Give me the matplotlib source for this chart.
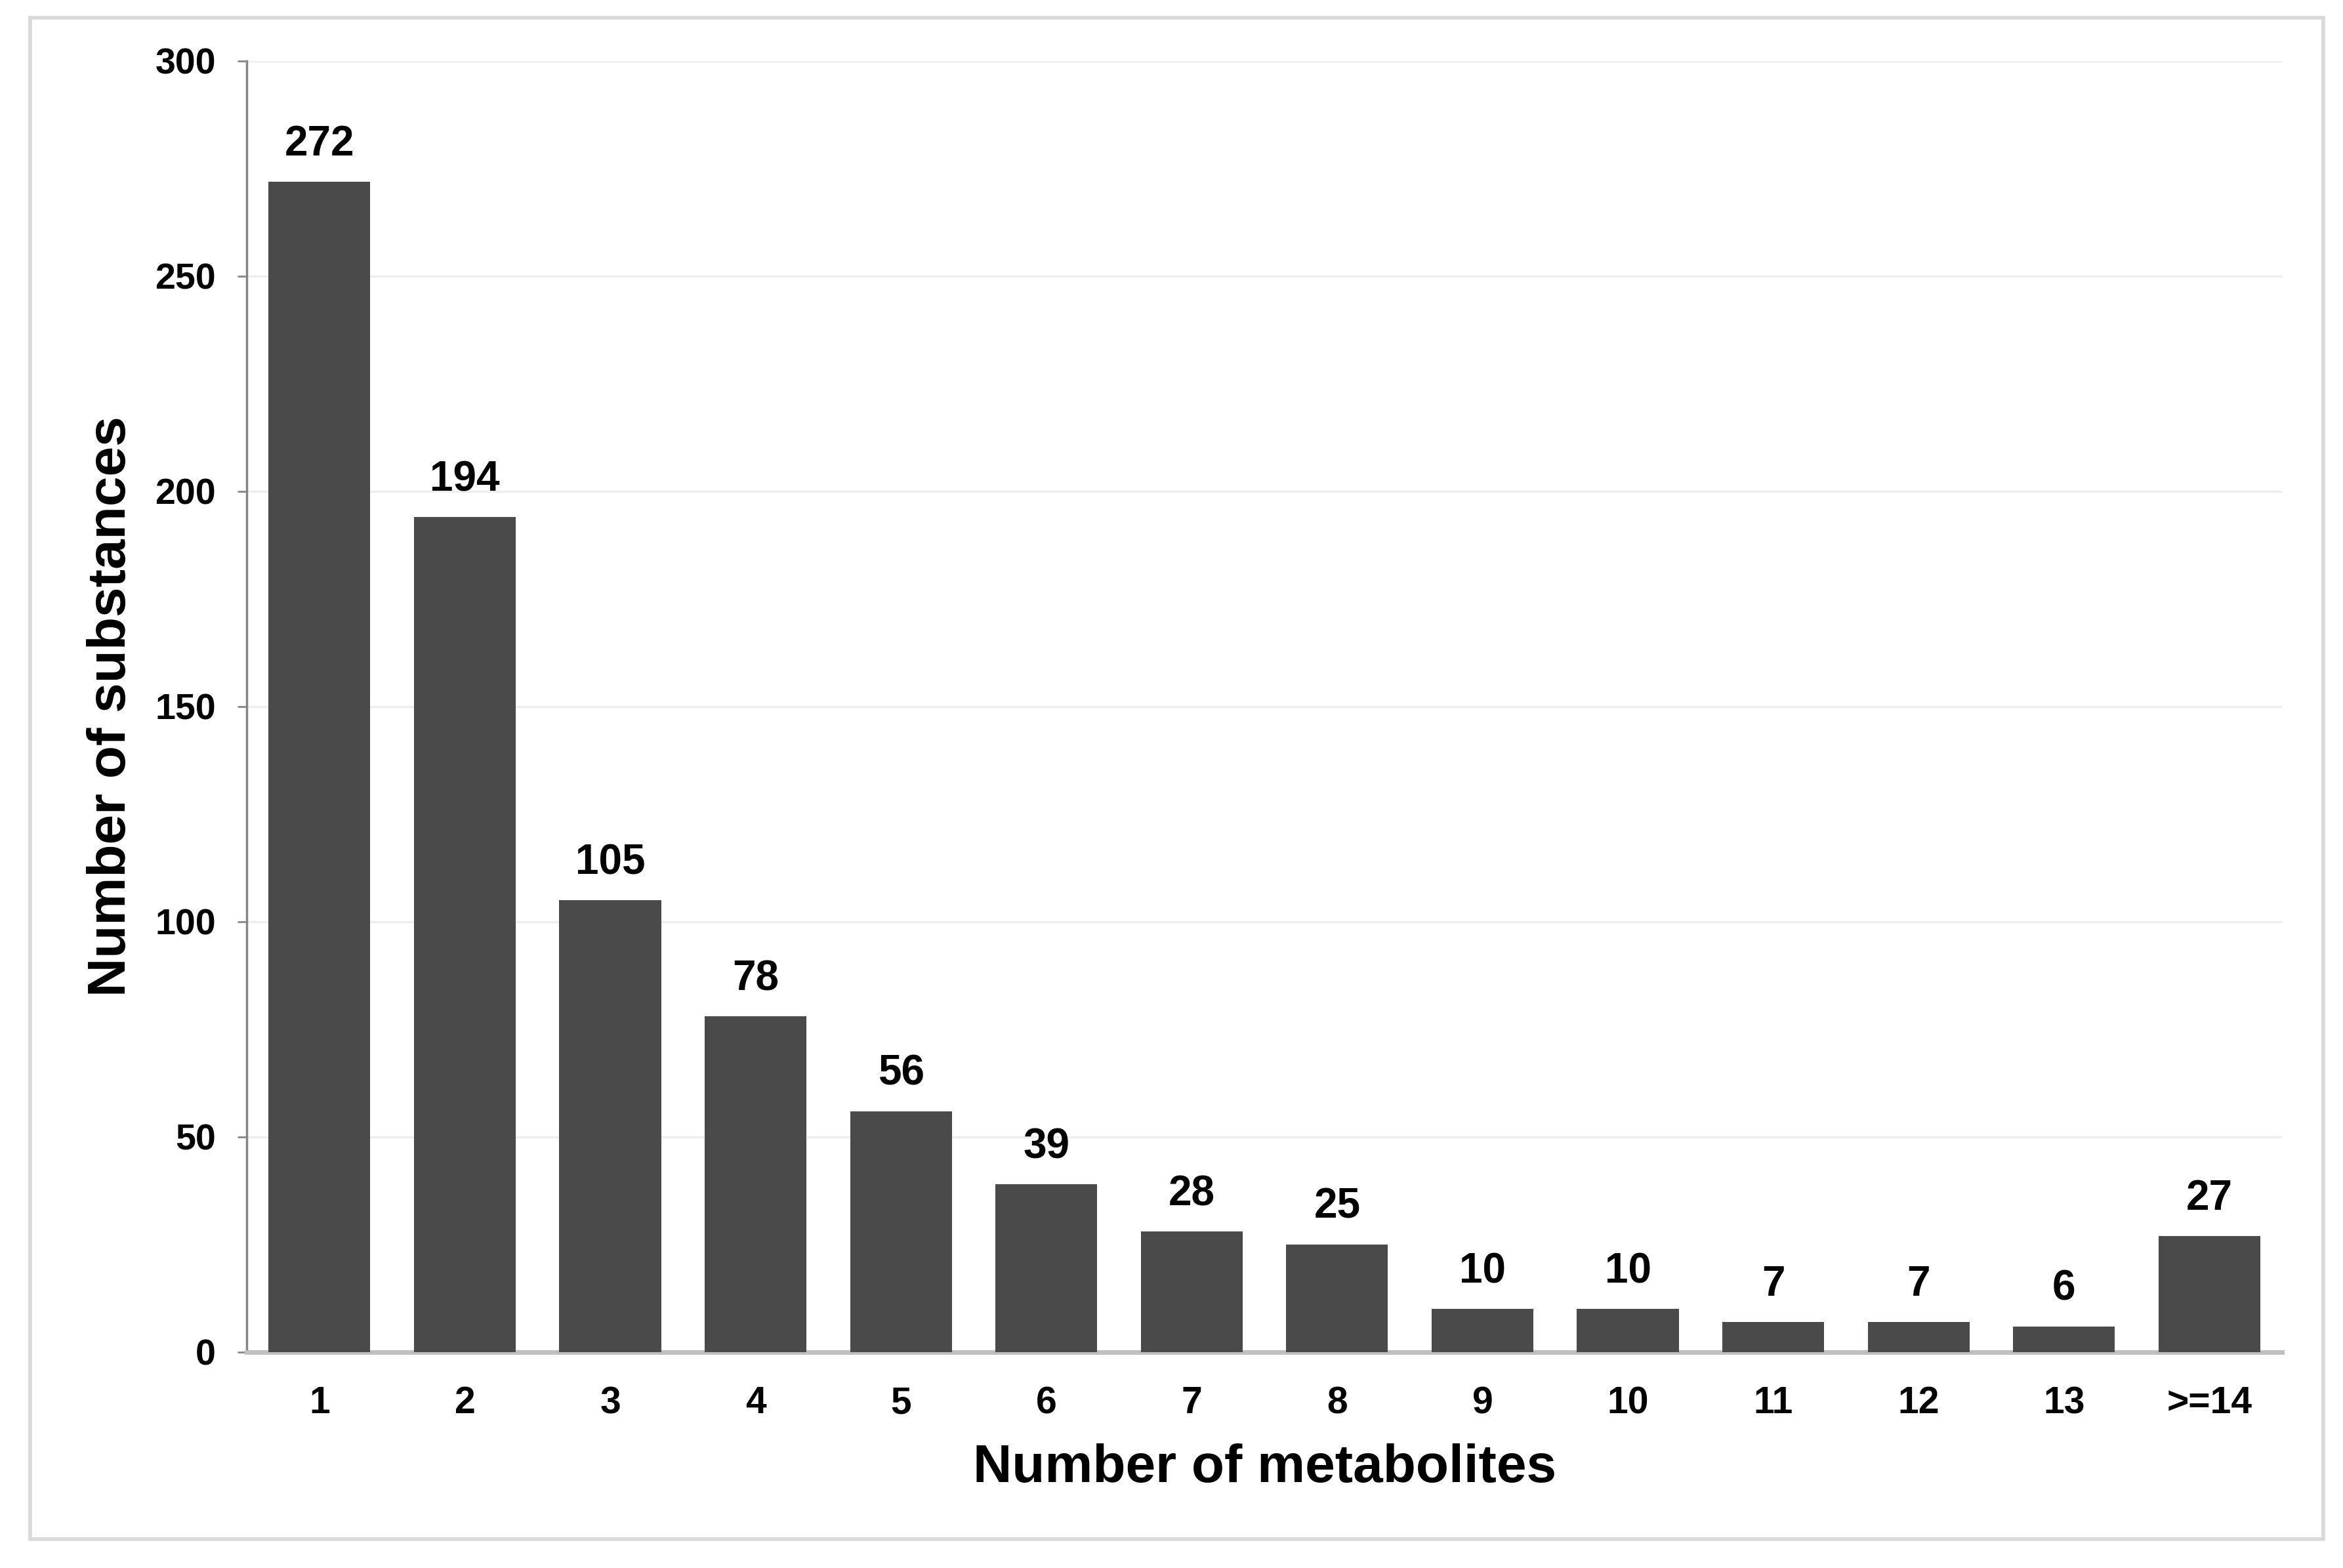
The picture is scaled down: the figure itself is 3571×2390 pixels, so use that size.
import numpy as np
import matplotlib.pyplot as plt
from matplotlib.patches import Rectangle

categories = ['1', '2', '3', '4', '5', '6', '7', '8', '9', '10', '11', '12', '13', '>=14']
counts = [272, 194, 105, 78, 56, 39, 28, 25, 10, 10, 7, 7, 6, 27]
yticks = [0, 50, 100, 150, 200, 250, 300]

plt.rcParams['font.family'] = ['Liberation Sans', 'DejaVu Sans']
plt.rcParams['font.weight'] = 'bold'

fig = plt.figure(figsize=(35.71, 23.90), dpi=100)
ax = fig.add_axes([0.1053, 0.1377, 0.8687, 0.8234])

x = np.arange(len(categories))
ax.bar(x, counts, width=0.70, color='#4a4a4a', zorder=3)

for xi, v in zip(x, counts):
    ax.annotate(str(v), (xi, v), xytext=(0, 27), textcoords='offset pixels',
                ha='center', va='bottom', fontsize=46, fontweight='bold', color='black')

ax.set_xlim(-0.5, len(categories) - 0.5)
ax.set_ylim(0, 300)
ax.set_xticks(x)
ax.set_xticklabels(categories)
ax.set_yticks(yticks)

ax.yaxis.grid(True, color='#eeeeee', linewidth=2.5, zorder=0)
ax.set_axisbelow(True)

for s in ['top', 'right']:
    ax.spines[s].set_visible(False)
ax.spines['left'].set_color('#868686')
ax.spines['left'].set_linewidth(2.5)
ax.spines['bottom'].set_color('#bfbfbf')
ax.spines['bottom'].set_linewidth(5)

ax.tick_params(axis='x', length=0, pad=37, labelsize=41)
ax.tick_params(axis='y', length=10, width=2, color='#868686', pad=24, labelsize=40)
for lab in ax.get_xticklabels() + ax.get_yticklabels():
    lab.set_fontweight('bold')

ax.set_xlabel('Number of metabolites', fontsize=59, fontweight='bold', labelpad=24)
ax.set_ylabel('Number of substances', fontsize=59, fontweight='bold', labelpad=20)

# light grey frame round the whole chart
fig.patches.append(Rectangle((46 / 3571, 1 - 2346 / 2390), (3541 - 46) / 3571, (2346 - 27) / 2390,
                             transform=fig.transFigure, fill=False, edgecolor='#d9d9d9', linewidth=4))

plt.savefig('out.png', dpi=100)
plt.close()
